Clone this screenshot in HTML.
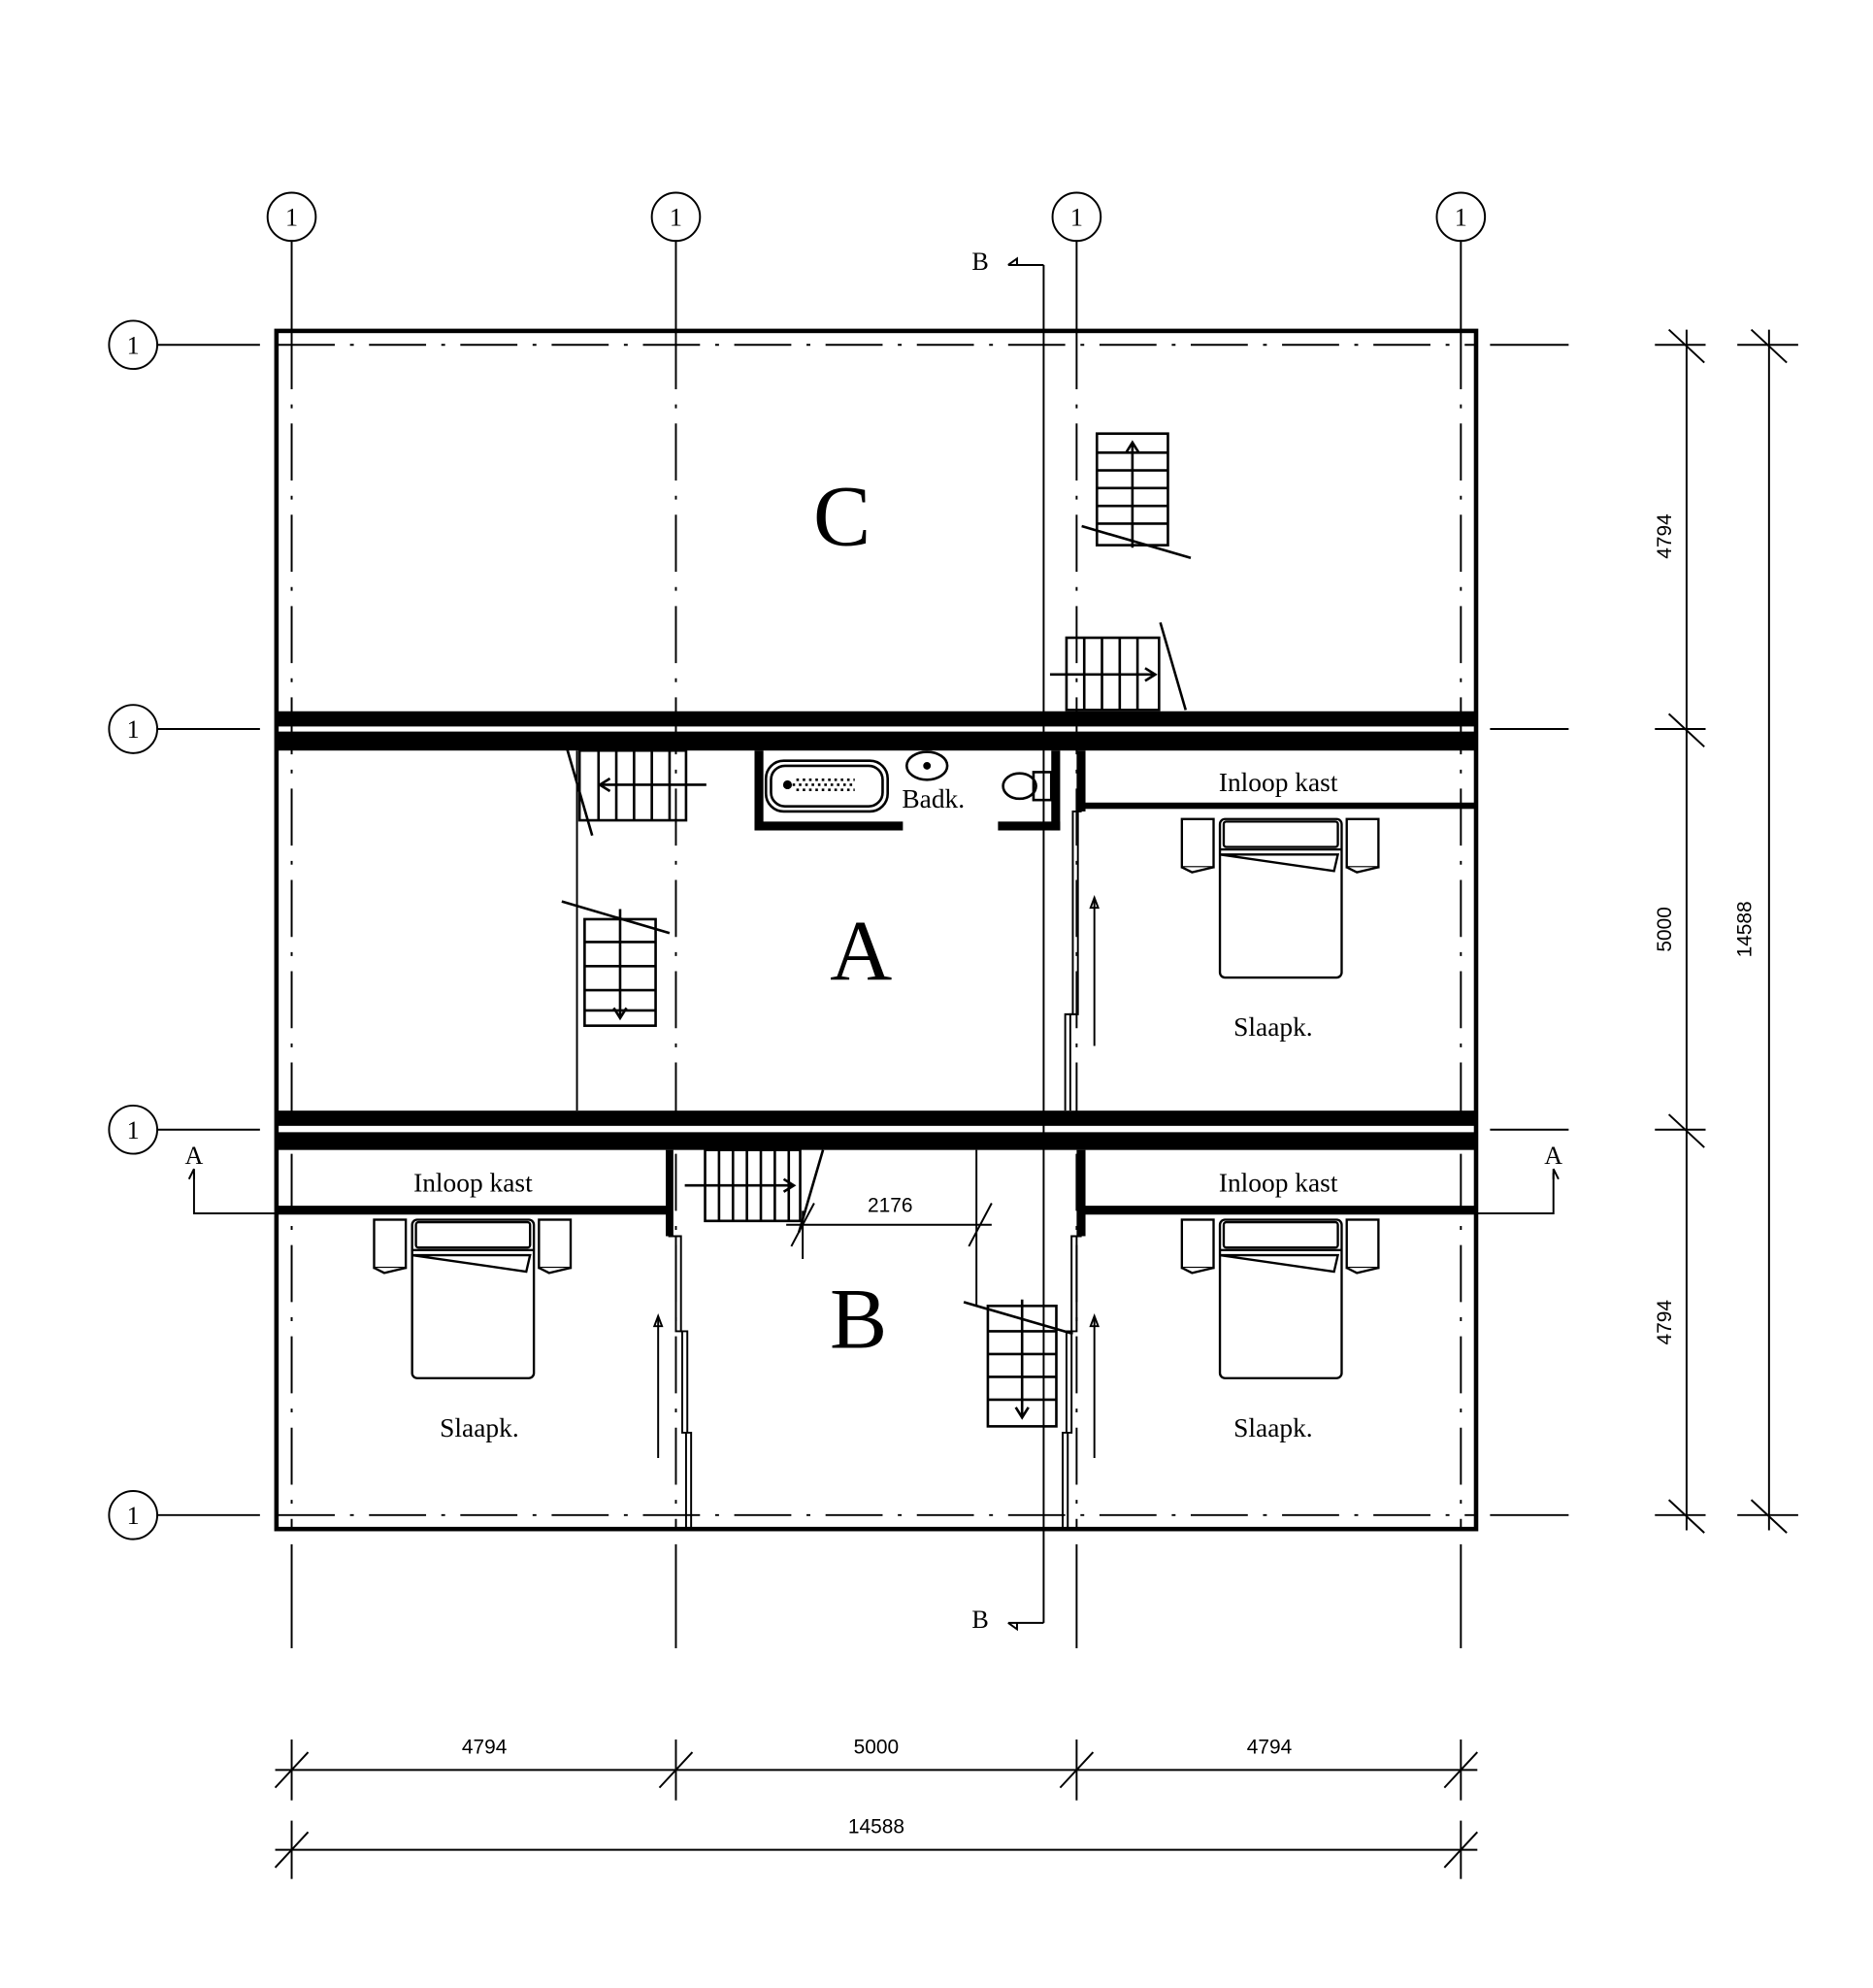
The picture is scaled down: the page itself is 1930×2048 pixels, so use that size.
<!DOCTYPE html>
<html><head><meta charset="utf-8"><style>html,body{margin:0;padding:0;background:#fff}svg{display:block}</style></head><body>
<svg width="1930" height="2048" viewBox="0 0 1477 1568" preserveAspectRatio="none" xmlns="http://www.w3.org/2000/svg" font-family="Liberation Serif, serif">
<rect width="1477" height="1568" fill="#fff"/>
<g stroke="#000" stroke-width="1.5" fill="none">
<line x1="230" y1="190" x2="230" y2="260"/><line x1="533" y1="190" x2="533" y2="260"/><line x1="849" y1="190" x2="849" y2="260"/><line x1="1152" y1="190" x2="1152" y2="260"/>
<line x1="230" y1="1218" x2="230" y2="1300"/><line x1="533" y1="1218" x2="533" y2="1300"/><line x1="849" y1="1218" x2="849" y2="1300"/><line x1="1152" y1="1218" x2="1152" y2="1300"/>
<line x1="124" y1="272" x2="205" y2="272"/><line x1="124" y1="575" x2="205" y2="575"/><line x1="124" y1="891" x2="205" y2="891"/><line x1="124" y1="1195" x2="205" y2="1195"/>
<line x1="1175" y1="272" x2="1237" y2="272"/><line x1="1175" y1="575" x2="1237" y2="575"/><line x1="1175" y1="891" x2="1237" y2="891"/><line x1="1175" y1="1195" x2="1237" y2="1195"/>
</g>
<g stroke="#000" stroke-width="1.5" stroke-dasharray="45,12,3,12" fill="none">
<line x1="230" y1="262" x2="230" y2="1205"/><line x1="533" y1="262" x2="533" y2="1205"/><line x1="849" y1="262" x2="849" y2="1205"/><line x1="1152" y1="262" x2="1152" y2="1205"/>
<line x1="219" y1="272" x2="1163" y2="272"/><line x1="219" y1="1195" x2="1163" y2="1195"/>
</g>
<g stroke="#000" stroke-width="1.5" fill="#fff">
<circle cx="230" cy="171" r="19"/><circle cx="533" cy="171" r="19"/><circle cx="849" cy="171" r="19"/><circle cx="1152" cy="171" r="19"/>
<circle cx="105" cy="272" r="19"/><circle cx="105" cy="575" r="19"/><circle cx="105" cy="891" r="19"/><circle cx="105" cy="1195" r="19"/>
</g>
<g font-size="20" text-anchor="middle" fill="#000">
<text x="230" y="178">1</text><text x="533" y="178">1</text><text x="849" y="178">1</text><text x="1152" y="178">1</text>
<text x="105" y="279">1</text><text x="105" y="582">1</text><text x="105" y="898">1</text><text x="105" y="1202">1</text>
</g>
<rect x="218" y="261" width="946" height="945" fill="none" stroke="#000" stroke-width="3.5"/>
<g fill="#000">
<rect x="217" y="561" width="948" height="12"/><rect x="217" y="577" width="948" height="15"/>
<rect x="217" y="876" width="948" height="12"/><rect x="217" y="893" width="948" height="14"/>
<rect x="217" y="951" width="310" height="7"/><rect x="853" y="951" width="312" height="7"/>
<rect x="853" y="633" width="312" height="5"/>
<rect x="525" y="907" width="6" height="68"/><rect x="849" y="907" width="7" height="68"/>
<rect x="849" y="592" width="7" height="48"/>
<rect x="595" y="592" width="7" height="63"/><rect x="595" y="648" width="117" height="7"/>
<rect x="787" y="648" width="49" height="7"/><rect x="829" y="592" width="7" height="63"/>
</g>
<g stroke="#000" stroke-width="1.5" fill="none">
<line x1="455" y1="592" x2="455" y2="876"/>
<line x1="823" y1="209" x2="823" y2="1280"/>
<line x1="795" y1="209" x2="823" y2="209"/><path d="M795 209 l7 -5 v5"/>
<line x1="795" y1="1280" x2="823" y2="1280"/><path d="M795 1280 l7 5 v-5"/>
<line x1="770" y1="907" x2="770" y2="1030"/>
<polyline points="531,975 537,975 537,1050 542,1050 542,1130 545,1130 545,1207"/>
<polyline points="527,975 533,975 533,1050 538,1050 538,1130 541,1130 541,1207"/>
<polyline points="849,975 845,975 845,1050 841,1050 841,1130 838,1130 838,1207"/>
<polyline points="853,975 849,975 849,1050 845,1050 845,1130 842,1130 842,1207"/>
<polyline points="849,640 846,640 846,800 840,800 840,876"/>
<polyline points="853,640 850,640 850,800 844,800 844,876"/>
<line x1="519" y1="1040" x2="519" y2="1150"/><path d="M516 1046 l3 -8 l3 8z"/>
<line x1="863" y1="1040" x2="863" y2="1150"/><path d="M860 1046 l3 -8 l3 8z"/>
<line x1="863" y1="710" x2="863" y2="825"/><path d="M860 716 l3 -8 l3 8z"/>
<polyline points="153,925 153,957 217,957"/><path d="M149 930 l4 -8 v8"/>
<polyline points="1225,925 1225,957 1165,957"/><path d="M1229 930 l-4 -8 v8"/>
</g>
<g font-size="20" fill="#000" text-anchor="middle">
<text x="773" y="213">B</text><text x="773" y="1284">B</text>
<text x="153" y="918">A</text><text x="1225" y="918">A</text>
</g>
<g stroke="#000" stroke-width="2" fill="none">
<rect x="865" y="342" width="56" height="88"/>
<line x1="865" y1="357" x2="921" y2="357"/><line x1="865" y1="371" x2="921" y2="371"/><line x1="865" y1="385" x2="921" y2="385"/><line x1="865" y1="399" x2="921" y2="399"/><line x1="865" y1="413" x2="921" y2="413"/>
<line x1="893" y1="350" x2="893" y2="432"/><path d="M888 357 l5 -8 l5 8"/>
<line x1="853" y1="415" x2="939" y2="440"/>
<rect x="841" y="503" width="73" height="57"/>
<line x1="855" y1="503" x2="855" y2="560"/><line x1="869" y1="503" x2="869" y2="560"/><line x1="883" y1="503" x2="883" y2="560"/><line x1="897" y1="503" x2="897" y2="560"/>
<line x1="828" y1="532" x2="911" y2="532"/><path d="M903 527 l8 5 l-8 5"/>
<line x1="915" y1="491" x2="935" y2="560"/>
<rect x="457" y="592" width="84" height="55"/>
<line x1="472" y1="592" x2="472" y2="647"/><line x1="486" y1="592" x2="486" y2="647"/><line x1="500" y1="592" x2="500" y2="647"/><line x1="514" y1="592" x2="514" y2="647"/><line x1="528" y1="592" x2="528" y2="647"/>
<line x1="472" y1="619" x2="557" y2="619"/><path d="M481 614 l-8 5 l8 5"/>
<line x1="447" y1="590" x2="467" y2="659"/>
<rect x="461" y="725" width="56" height="84"/>
<line x1="461" y1="743" x2="517" y2="743"/><line x1="461" y1="762" x2="517" y2="762"/><line x1="461" y1="781" x2="517" y2="781"/><line x1="461" y1="797" x2="517" y2="797"/>
<line x1="489" y1="717" x2="489" y2="802"/><path d="M484 795 l5 8 l5 -8"/>
<line x1="443" y1="711" x2="528" y2="736"/>
<rect x="556" y="907" width="75" height="56"/>
<line x1="567" y1="907" x2="567" y2="963"/><line x1="578" y1="907" x2="578" y2="963"/><line x1="589" y1="907" x2="589" y2="963"/><line x1="600" y1="907" x2="600" y2="963"/><line x1="611" y1="907" x2="611" y2="963"/><line x1="622" y1="907" x2="622" y2="963"/>
<line x1="540" y1="935" x2="625" y2="935"/><path d="M618 930 l8 5 l-8 5"/>
<line x1="649" y1="907" x2="630" y2="972"/>
<rect x="779" y="1030" width="54" height="95"/>
<line x1="779" y1="1050" x2="833" y2="1050"/><line x1="779" y1="1068" x2="833" y2="1068"/><line x1="779" y1="1086" x2="833" y2="1086"/><line x1="779" y1="1104" x2="833" y2="1104"/>
<line x1="806" y1="1025" x2="806" y2="1118"/><path d="M801 1110 l5 8 l5 -8"/>
<line x1="760" y1="1027" x2="846" y2="1052"/>
</g>
<g stroke="#000" stroke-width="1.5">
<line x1="620" y1="966" x2="782" y2="966"/>
<line x1="633" y1="955" x2="633" y2="993"/>
<line x1="624" y1="983" x2="642" y2="949"/><line x1="764" y1="983" x2="782" y2="949"/>
</g>
<text x="702" y="956" font-family="Liberation Sans, sans-serif" font-size="16" text-anchor="middle">2176</text>
<g stroke="#000" stroke-width="2" fill="none">
<rect x="604" y="600" width="96" height="40" rx="14"/>
<rect x="608" y="604" width="88" height="32" rx="11"/>
<path d="M625 619 h50 M628 615 h46 M628 623 h46" stroke-dasharray="2,3"/>
<circle cx="621" cy="619" r="2.5" fill="#000"/>
<ellipse cx="731" cy="604" rx="16" ry="11"/><circle cx="731" cy="604" r="2" fill="#000"/>
<ellipse cx="804" cy="620" rx="13" ry="10"/><rect x="815" y="609" width="14" height="22"/>
</g>
<g stroke="#000" stroke-width="1.8" fill="#fff">
<g id="bed">
<rect x="295" y="962" width="25" height="38"/><path d="M295 1000 l8 4 l17 -4"/>
<rect x="425" y="962" width="25" height="38"/><path d="M425 1000 l8 4 l17 -4"/>
<rect x="325" y="962" width="96" height="125" rx="4"/>
<rect x="328" y="964" width="90" height="20" rx="2"/>
<line x1="325" y1="986" x2="421" y2="986"/>
<path d="M325 990 l93 0 l-3 13 z"/>
</g>
<use href="#bed" transform="translate(637,0)"/>
<use href="#bed" transform="translate(637,-316)"/>
</g>
<g fill="#000" text-anchor="middle">
<text x="664" y="430" font-size="68">C</text>
<text x="679" y="773" font-size="68">A</text>
<text x="677" y="1063" font-size="68">B</text>
<g font-size="21">
<text x="736" y="637">Badk.</text>
<text x="1008" y="624">Inloop kast</text>
<text x="373" y="940">Inloop kast</text>
<text x="1008" y="940">Inloop kast</text>
<text x="1004" y="817">Slaapk.</text>
<text x="378" y="1133">Slaapk.</text>
<text x="1004" y="1133">Slaapk.</text>
</g>
</g>
<g stroke="#000" stroke-width="1.5">
<line x1="1330" y1="260" x2="1330" y2="1207"/><line x1="1395" y1="260" x2="1395" y2="1207"/>
<line x1="1305" y1="272" x2="1345" y2="272"/><line x1="1305" y1="575" x2="1345" y2="575"/><line x1="1305" y1="891" x2="1345" y2="891"/><line x1="1305" y1="1195" x2="1345" y2="1195"/>
<line x1="1370" y1="272" x2="1418" y2="272"/><line x1="1370" y1="1195" x2="1418" y2="1195"/>
<line x1="1316" y1="260" x2="1344" y2="286"/><line x1="1316" y1="563" x2="1344" y2="589"/><line x1="1316" y1="879" x2="1344" y2="905"/><line x1="1316" y1="1183" x2="1344" y2="1209"/>
<line x1="1381" y1="260" x2="1409" y2="286"/><line x1="1381" y1="1183" x2="1409" y2="1209"/>
<line x1="217" y1="1396" x2="1165" y2="1396"/><line x1="217" y1="1459" x2="1165" y2="1459"/>
<line x1="230" y1="1372" x2="230" y2="1420"/><line x1="533" y1="1372" x2="533" y2="1420"/><line x1="849" y1="1372" x2="849" y2="1420"/><line x1="1152" y1="1372" x2="1152" y2="1420"/>
<line x1="230" y1="1436" x2="230" y2="1482"/><line x1="1152" y1="1436" x2="1152" y2="1482"/>
<line x1="217" y1="1410" x2="243" y2="1382"/><line x1="520" y1="1410" x2="546" y2="1382"/><line x1="836" y1="1410" x2="862" y2="1382"/><line x1="1139" y1="1410" x2="1165" y2="1382"/>
<line x1="217" y1="1473" x2="243" y2="1445"/><line x1="1139" y1="1473" x2="1165" y2="1445"/>
</g>
<g font-family="Liberation Sans, sans-serif" font-size="16" text-anchor="middle" fill="#000">
<text x="382" y="1383">4794</text><text x="691" y="1383">5000</text><text x="1001" y="1383">4794</text>
<text x="691" y="1446">14588</text>
<text transform="translate(1318,423) rotate(-90)">4794</text>
<text transform="translate(1318,733) rotate(-90)">5000</text>
<text transform="translate(1318,1043) rotate(-90)">4794</text>
<text transform="translate(1381,733) rotate(-90)">14588</text>
</g>
</svg>
</body></html>
